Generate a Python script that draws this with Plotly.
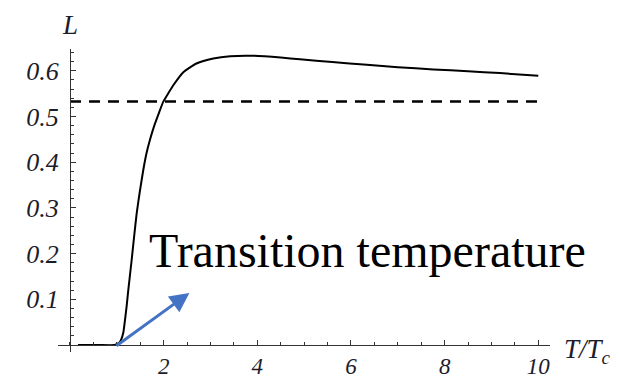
import plotly.graph_objects as go

# Data
T_vals = [0.17, 0.6, 0.95, 1.0, 1.05, 1.09, 1.14, 1.175, 1.21, 1.245, 1.317, 1.37, 1.424,
          1.49, 1.565, 1.635, 1.708, 1.80, 1.90, 1.99, 2.10, 2.21, 2.42, 2.70, 3.06, 3.42, 3.90,
          4.5, 4.91, 5.6, 6.34, 7.0, 7.76, 8.5, 9.18, 10.0]
L_vals = [0.0, 0.0, 0.0, 0.002, 0.005, 0.011, 0.028, 0.055, 0.085, 0.120, 0.186, 0.238, 0.288,
          0.335, 0.383, 0.420, 0.449, 0.480, 0.508, 0.532, 0.551, 0.569, 0.597, 0.616, 0.627, 0.632, 0.633,
          0.629, 0.625, 0.619, 0.613, 0.608, 0.603, 0.599, 0.595, 0.589]
L_ref = 0.533
ref_T = [0.0, 10.0]
x_ticks = [2, 4, 6, 8, 10]
x_tick_text = ["2", "4", "6", "8", "10"]
y_ticks = [0.1, 0.2, 0.3, 0.4, 0.5, 0.6]
y_tick_text = ["0.1", "0.2", "0.3", "0.4", "0.5", "0.6"]
annotation_text = "Transition temperature"
arrow_tail = (0.96, -0.004)
arrow_head = (2.55, 0.114)

x_range = [-0.256, 10.25]
y_range = [-0.0153, 0.6477]

SERIF = "Liberation Serif, Times New Roman, serif"

fig = go.Figure()
fig.add_trace(go.Scatter(x=ref_T, y=[L_ref, L_ref], mode="lines",
                         line=dict(color="black", width=2.5, dash="11px,8px"),
                         hoverinfo="skip"))
fig.add_trace(go.Scatter(x=T_vals, y=L_vals, mode="lines",
                         line=dict(color="black", width=2, shape="spline", smoothing=0.5),
                         hoverinfo="skip"))

xpos = (0 - y_range[0]) / (y_range[1] - y_range[0])
ypos = (0 - x_range[0]) / (x_range[1] - x_range[0])

fig.update_layout(
    width=620, height=377,
    margin=dict(l=58, r=70, t=49, b=25),
    paper_bgcolor="white", plot_bgcolor="white",
    showlegend=False,
    xaxis=dict(range=x_range, anchor="free", position=xpos, showgrid=False, zeroline=False,
               automargin=False,
               showline=True, linecolor="#333", linewidth=1,
               tickvals=x_ticks, ticktext=x_tick_text, ticks="inside", ticklen=5,
               tickcolor="#333", ticklabelstandoff=0,
               tickfont=dict(family=SERIF, size=23, color="#1c1c2a", style="italic"),
               minor=dict(dtick=0.5, tick0=0, ticks="inside", ticklen=3, tickcolor="#333")),
    yaxis=dict(range=y_range, anchor="free", position=ypos, showgrid=False, zeroline=False,
               automargin=False,
               showline=True, linecolor="#333", linewidth=1,
               tickvals=y_ticks, ticktext=y_tick_text, ticks="inside", ticklen=5,
               tickcolor="#333", ticklabelstandoff=6,
               tickfont=dict(family=SERIF, size=26, color="#1c1c2a", style="italic"),
               minor=dict(dtick=0.02, tick0=0, ticks="inside", ticklen=3, tickcolor="#333")),
    annotations=[
        dict(x=arrow_head[0], y=arrow_head[1], ax=arrow_tail[0], ay=arrow_tail[1],
             xref="x", yref="y", axref="x", ayref="y", text="", showarrow=True,
             arrowhead=2, arrowsize=1.3, arrowwidth=3, arrowcolor="#4472C4"),
        dict(x=1.64, y=0.207, xref="x", yref="y", text=annotation_text, showarrow=False,
             xanchor="left", yanchor="middle",
             font=dict(family=SERIF, size=48, color="black")),
        dict(x=ypos, y=1.0, xref="paper", yref="paper", text="L", showarrow=False,
             xanchor="center", yanchor="bottom", yshift=7,
             font=dict(family=SERIF, size=27, color="#1c1c2a", style="italic")),
        dict(x=1.0, y=0.0, xref="paper", yref="y", text="T/T<sub>c</sub>", showarrow=False,
             xanchor="left", yanchor="middle", xshift=12, yshift=-6,
             font=dict(family=SERIF, size=27, color="#1c1c2a", style="italic")),
    ],
)

fig.write_html("out.html", config={"displayModeBar": False},
               post_script="document.body.style.margin='0';document.body.style.padding='0';")
